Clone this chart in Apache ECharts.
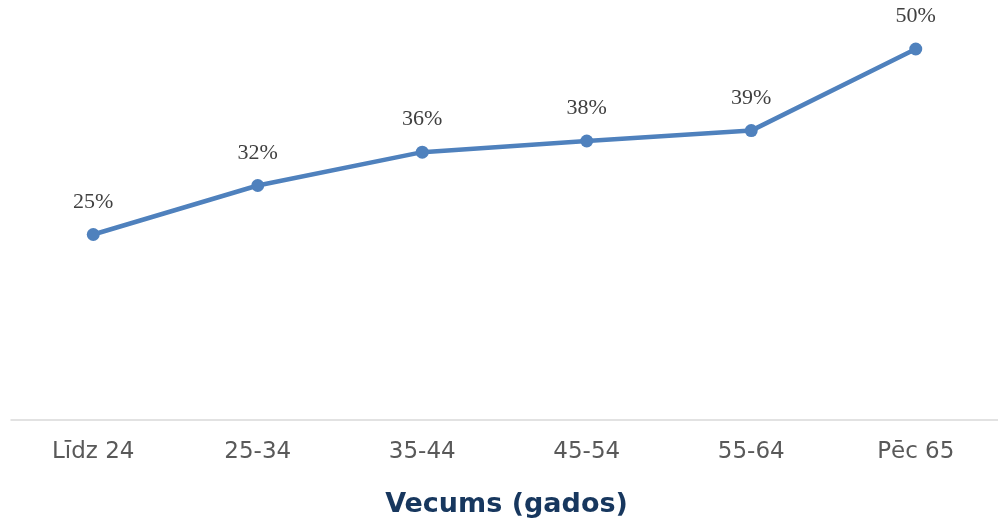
<!DOCTYPE html>
<html><head><meta charset="utf-8">
<script src="https://cdn.jsdelivr.net/npm/echarts@6/dist/echarts.min.js"></script>
<style>html,body{margin:0;padding:0;background:#fff}#c{width:998px;height:521px}</style>
</head><body><div id="c"></div>
<script>
const categories = ['Līdz 24', '25-34', '35-44', '45-54', '55-64', 'Pēc 65'];
const values = [0.25, 0.316, 0.361, 0.376, 0.39, 0.50];
const axisTitle = 'Vecums (gados)';

const chart = echarts.init(document.getElementById('c'), null, {renderer: 'canvas'});
chart.setOption({
  animation: false,
  grid: {left: 11, right: 0, top: 49, bottom: 101, containLabel: false, outerBoundsMode: 'none'},
  xAxis: {
    type: 'category',
    data: categories,
    boundaryGap: true,
    name: axisTitle,
    nameLocation: 'middle',
    nameGap: 71,
    nameTextStyle: {fontFamily: 'DejaVu Sans', fontWeight: 'bold', fontSize: 27, color: '#17375e', padding: [0, 0, 0, 4]},
    axisLine: {lineStyle: {color: '#d9d9d9', width: 1.5}},
    axisTick: {show: false},
    axisLabel: {fontFamily: 'DejaVu Sans', fontSize: 23, color: '#595959', margin: 21}
  },
  yAxis: {
    type: 'value', min: 0, max: 0.5,
    show: false,
    splitLine: {show: false}
  },
  series: [{
    type: 'line',
    data: values,
    symbol: 'circle',
    symbolSize: 13,
    lineStyle: {color: '#4f81bd', width: 4.5},
    itemStyle: {color: '#4f81bd'},
    label: {
      show: true, position: 'top', distance: 15,
      fontFamily: 'Liberation Serif', fontSize: 22, color: '#404040',
      formatter: p => Math.round(p.value * 100) + '%'
    }
  }]
});
</script></body></html>
